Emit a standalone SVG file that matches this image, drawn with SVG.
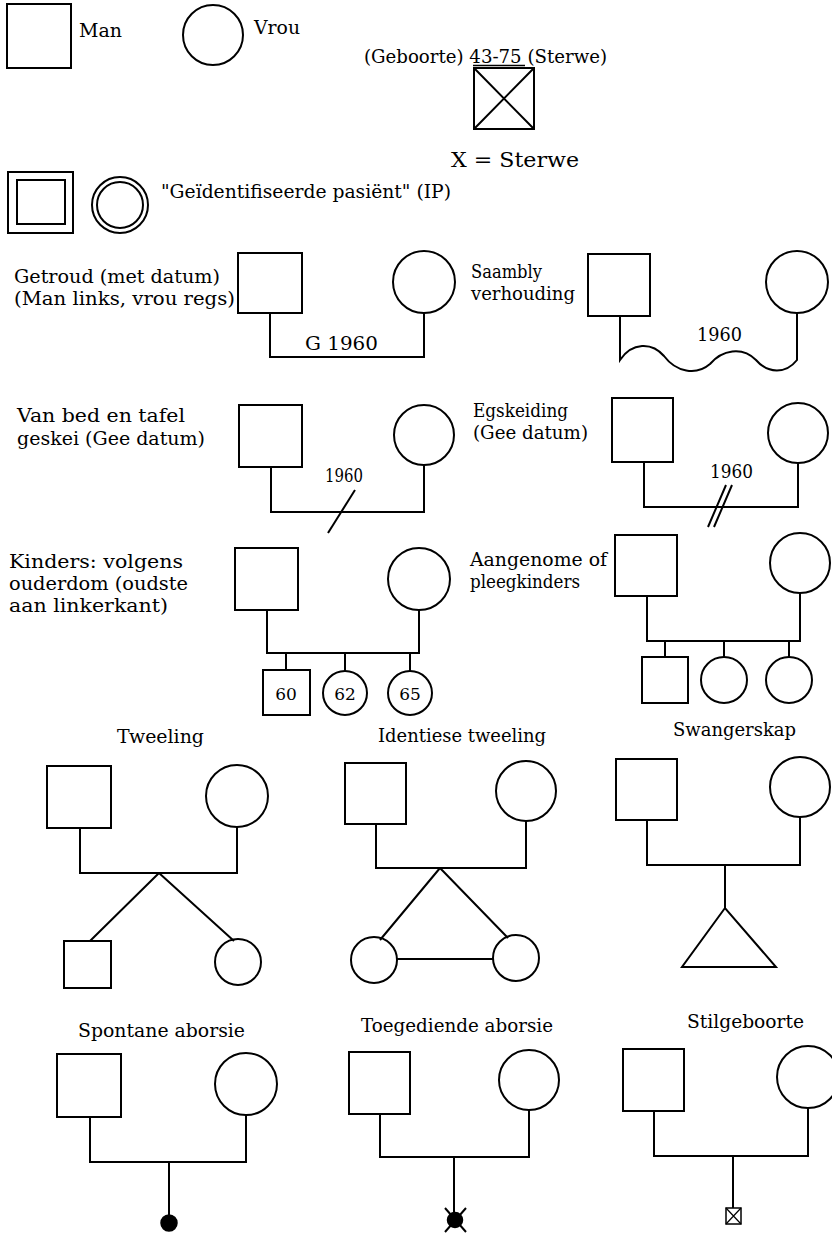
<svg xmlns="http://www.w3.org/2000/svg" width="832" height="1240" viewBox="0 0 832 1240">
<style>
.s{fill:none;stroke:#000;stroke-width:2}
.f{fill:#000;stroke:#000;stroke-width:1.5}
.t{font-family:"DejaVu Serif","Liberation Serif",serif;font-size:18px;fill:#000}
.c{font-family:"DejaVu Serif","Liberation Serif",serif;font-size:17px;fill:#000;text-anchor:middle}
</style>
<rect width="832" height="1240" fill="#fff"/>
<g id="legend-man"><rect class="s" x="7" y="4" width="64" height="64"/><text class="t" x="79" y="37" textLength="43" lengthAdjust="spacingAndGlyphs">Man</text></g>
<g id="legend-vrou"><circle class="s" cx="213" cy="35" r="30"/><text class="t" x="254" y="34" textLength="46" lengthAdjust="spacingAndGlyphs">Vrou</text></g>
<g id="legend-sterwe">
<text class="t" x="364" y="63" textLength="243" lengthAdjust="spacingAndGlyphs">(Geboorte) 43-75 (Sterwe)</text>
<line x1="473" y1="65.5" x2="525" y2="65.5" stroke="#000" stroke-width="1.5"/>
<rect class="s" x="474" y="68" width="60" height="61"/>
<path class="s" d="M474,68 L534,129 M534,68 L474,129"/>
<text class="t" x="451" y="167" textLength="128" lengthAdjust="spacingAndGlyphs" style="font-size:20px">X = Sterwe</text>
</g>
<g id="legend-ip">
<rect class="s" x="8" y="172" width="65" height="61"/>
<rect class="s" x="17" y="180" width="48" height="44"/>
<circle class="s" cx="120" cy="205" r="28"/>
<circle class="s" cx="120" cy="205" r="23"/>
<text class="t" x="161" y="198" textLength="290" lengthAdjust="spacingAndGlyphs">"Geïdentifiseerde pasiënt" (IP)</text>
</g>

<g id="getroud">
<text class="t" x="14" y="283" textLength="206" lengthAdjust="spacingAndGlyphs">Getroud (met datum)</text>
<text class="t" x="14" y="305" textLength="221" lengthAdjust="spacingAndGlyphs">(Man links, vrou regs)</text>
<rect class="s" x="238" y="253" width="64" height="60"/>
<circle class="s" cx="424" cy="282" r="31"/>
<text class="t" x="305" y="350" textLength="73" lengthAdjust="spacingAndGlyphs">G 1960</text>
</g>
<g id="saambly">
<text class="t" x="471" y="278" textLength="71" lengthAdjust="spacingAndGlyphs">Saambly</text>
<text class="t" x="471" y="300" textLength="104" lengthAdjust="spacingAndGlyphs">verhouding</text>
<rect class="s" x="588" y="254" width="62" height="62"/>
<circle class="s" cx="797" cy="282" r="31"/>
<text class="t" x="697" y="341" textLength="45" lengthAdjust="spacingAndGlyphs">1960</text>
</g>
<g id="vanbed">
<text class="t" x="17" y="422" textLength="168" lengthAdjust="spacingAndGlyphs">Van bed en tafel</text>
<text class="t" x="17" y="445" textLength="188" lengthAdjust="spacingAndGlyphs">geskei (Gee datum)</text>
<rect class="s" x="239" y="405" width="63" height="62"/>
<circle class="s" cx="424" cy="435" r="30"/>
<text class="t" x="325" y="482" textLength="38" lengthAdjust="spacingAndGlyphs">1960</text>
</g>
<g id="egskeiding">
<text class="t" x="473" y="417" textLength="95" lengthAdjust="spacingAndGlyphs">Egskeiding</text>
<text class="t" x="473" y="439" textLength="115" lengthAdjust="spacingAndGlyphs">(Gee datum)</text>
<rect class="s" x="612" y="398" width="61" height="64"/>
<circle class="s" cx="798" cy="433" r="30"/>
<text class="t" x="710" y="478" textLength="43" lengthAdjust="spacingAndGlyphs">1960</text>
</g>
<g id="kinders">
<text class="t" x="9" y="568" textLength="174" lengthAdjust="spacingAndGlyphs">Kinders: volgens</text>
<text class="t" x="9" y="590" textLength="179" lengthAdjust="spacingAndGlyphs">ouderdom (oudste</text>
<text class="t" x="9" y="612" textLength="159" lengthAdjust="spacingAndGlyphs">aan linkerkant)</text>
<rect class="s" x="235" y="548" width="63" height="62"/>
<circle class="s" cx="419" cy="579" r="31"/>
<rect class="s" x="263" y="670" width="47" height="45"/><text class="c" x="286" y="700">60</text>
<circle class="s" cx="345" cy="693" r="22"/><text class="c" x="345" y="700">62</text>
<circle class="s" cx="410" cy="693" r="22"/><text class="c" x="410" y="700">65</text>
</g>
<g id="aangenome">
<text class="t" x="470" y="566" textLength="137" lengthAdjust="spacingAndGlyphs">Aangenome of</text>
<text class="t" x="470" y="588" textLength="110" lengthAdjust="spacingAndGlyphs">pleegkinders</text>
<rect class="s" x="615" y="535" width="62" height="61"/>
<circle class="s" cx="800" cy="563" r="30"/>
<rect class="s" x="642" y="657" width="46" height="46"/>
<circle class="s" cx="724" cy="680" r="23"/>
<circle class="s" cx="789" cy="680" r="23"/>
</g>
<g id="tweeling">
<text class="t" x="117" y="743" textLength="87" lengthAdjust="spacingAndGlyphs">Tweeling</text>
<rect class="s" x="47" y="766" width="64" height="62"/>
<circle class="s" cx="237" cy="796" r="31"/>
<rect class="s" x="64" y="941" width="47" height="47"/>
<circle class="s" cx="238" cy="962" r="23"/>
</g>
<g id="identiese-tweeling">
<text class="t" x="378" y="742" textLength="168" lengthAdjust="spacingAndGlyphs">Identiese tweeling</text>
<rect class="s" x="345" y="763" width="61" height="61"/>
<circle class="s" cx="526" cy="791" r="30"/>
<circle class="s" cx="374" cy="960" r="23"/>
<circle class="s" cx="516" cy="958" r="23"/>
</g>
<g id="swangerskap">
<text class="t" x="673" y="736" textLength="123" lengthAdjust="spacingAndGlyphs">Swangerskap</text>
<rect class="s" x="616" y="759" width="61" height="61"/>
<circle class="s" cx="800" cy="787" r="30"/>
<path class="s" d="M725,908 L682,967 L776,967 Z"/>
</g>
<g id="spontane-aborsie">
<text class="t" x="78" y="1037" textLength="167" lengthAdjust="spacingAndGlyphs">Spontane aborsie</text>
<rect class="s" x="57" y="1054" width="64" height="63"/>
<circle class="s" cx="246" cy="1084" r="31"/>
<circle class="f" cx="169" cy="1223" r="8"/>
</g>
<g id="toegediende-aborsie">
<text class="t" x="361" y="1032" textLength="192" lengthAdjust="spacingAndGlyphs">Toegediende aborsie</text>
<rect class="s" x="349" y="1052" width="61" height="62"/>
<circle class="s" cx="529" cy="1080" r="30"/>
<circle class="f" cx="455" cy="1220" r="7.5"/>
<path class="s" d="M445,1208 L466,1232 M466,1208 L445,1232"/>
</g>
<g id="stilgeboorte">
<text class="t" x="687" y="1028" textLength="117" lengthAdjust="spacingAndGlyphs">Stilgeboorte</text>
<rect class="s" x="623" y="1049" width="61" height="62"/>
<circle class="s" cx="808" cy="1077" r="31"/>
<rect x="726" y="1208" width="15" height="16" fill="none" stroke="#000" stroke-width="1.5"/>
<path d="M726,1208 L741,1224 M741,1208 L726,1224" fill="none" stroke="#000" stroke-width="1.2"/>
</g>

<g id="connectors">
<path class="s" d="M270,313 V357 H424 V313"/>
<path class="s" d="M620,316 V360 C632,342 652,342 664,356 C676,372 696,376 710,364 C722,350 742,346 756,360 C768,374 786,374 797,360 V313"/>
<path class="s" d="M271,467 V512 H424 V465"/>
<path class="s" d="M328,533 L355,490"/>
<path class="s" d="M644,462 V507 H798 V463"/>
<path class="s" d="M708,527 L726,485 M714,527 L732,485"/>
<path class="s" d="M267,610 V653 H419 V610 M286,653 V670 M345,653 V671 M410,653 V671"/>
<path class="s" d="M647,596 V641 H800 V593 M665,641 V657 M724,641 V657 M789,641 V657"/>
<path class="s" d="M80,828 V873 H237 V827 M159,873 L90,941 M159,873 L234,941"/>
<path class="s" d="M376,824 V868 H526 V821 M440,868 L380,940 M440,868 L508,938 M397,959 H493"/>
<path class="s" d="M647,820 V865 H800 V817 M725,865 V908"/>
<path class="s" d="M90,1117 V1162 H246 V1115 M169,1162 V1215"/>
<path class="s" d="M380,1114 V1157 H529 V1110 M454,1157 V1212"/>
<path class="s" d="M654,1111 V1156 H808 V1108 M733,1156 V1208"/>
</g>
</svg>
